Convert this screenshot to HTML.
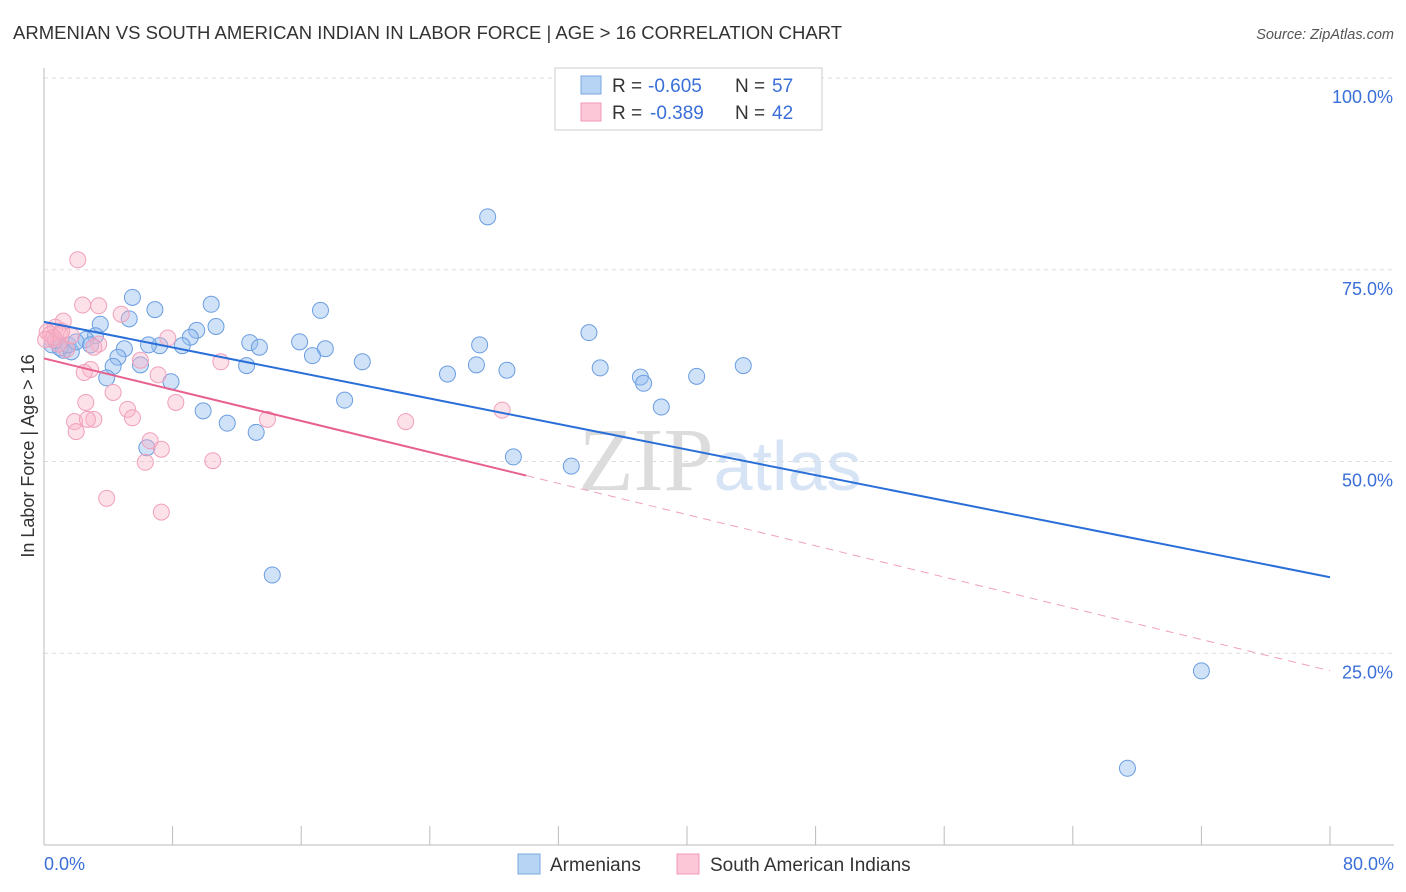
<!DOCTYPE html>
<html><head><meta charset="utf-8"><style>
body{margin:0;background:#fff;font-family:"Liberation Sans",sans-serif}
svg{display:block}
</style></head><body>
<svg id="chart" width="1406" height="892">
<text x="13" y="39" font-size="18.5" fill="#333">ARMENIAN VS SOUTH AMERICAN INDIAN IN LABOR FORCE | AGE &gt; 16 CORRELATION CHART</text>
<text x="1394" y="39" font-size="14.5" fill="#555" font-style="italic" text-anchor="end">Source: ZipAtlas.com</text>
<text x="34" y="456" font-size="18" fill="#333" text-anchor="middle" transform="rotate(-90 34 456)">In Labor Force | Age &gt; 16</text>
<text x="720" y="490" font-size="90" fill="#e4e4e4" text-anchor="middle" font-family="Liberation Serif,serif"><tspan fill="#dcdcdc">ZIP</tspan><tspan fill="#d6e4f5" font-family="Liberation Sans,sans-serif" font-size="70">atlas</tspan></text>
<g id="grid"></g><g id="marks"></g>
<g>
<rect x="555" y="68" width="267" height="62" fill="#fff" stroke="#ccc"/>
<rect x="581" y="76" width="20" height="18" fill="#b8d4f5" stroke="#7aa8e0"/>
<rect x="581" y="103" width="20" height="18" fill="#fcc8d8" stroke="#f09ab5"/>
<text x="612" y="92" font-size="19" fill="#333">R =</text>
<text x="648" y="92" font-size="19" fill="#3a6fd8">-0.605</text>
<text x="735" y="92" font-size="19" fill="#333">N =</text>
<text x="772" y="92" font-size="19" fill="#3a6fd8">57</text>
<text x="612" y="119" font-size="19" fill="#333">R =</text>
<text x="650" y="119" font-size="19" fill="#3a6fd8">-0.389</text>
<text x="735" y="119" font-size="19" fill="#333">N =</text>
<text x="772" y="119" font-size="19" fill="#3a6fd8">42</text>
</g>
<g>
<rect x="518" y="854" width="22" height="20" fill="#b8d4f5" stroke="#7aa8e0"/>
<text x="550" y="871" font-size="19" fill="#333">Armenians</text>
<rect x="677" y="854" width="22" height="20" fill="#fcc8d8" stroke="#f09ab5"/>
<text x="710" y="871" font-size="19" fill="#333">South American Indians</text>
</g>
</svg>
<script>
const yTicks=[100,75,50,25];
const xLabels=["0.0%","80.0%"];
const blueX=[27.6,5.5,10.4,6.9,17.2,5.3,3.5,10.7,9.5,33.9,3.2,2.6,9.1,12.8,15.9,0.5,7.2,8.6,27.1,13.4,5.0,1.2,1.7,17.5,4.6,16.7,12.6,6.0,4.3,19.8,43.5,34.6,26.9,28.8,25.1,40.6,37.1,37.3,3.9,7.9,18.7,9.9,38.4,11.4,13.2,6.4,29.2,32.8,14.2,72.0,67.4,1.0,1.5,2.0,0.7,2.9,6.5];
const blueY=[81.9,71.4,70.5,69.8,69.7,68.6,67.9,67.6,67.1,66.8,66.4,65.9,66.2,65.5,65.6,65.2,65.1,65.1,65.2,64.9,64.7,64.5,64.3,64.7,63.6,63.8,62.5,62.6,62.4,63.0,62.5,62.2,62.6,61.9,61.4,61.1,61.0,60.2,60.9,60.4,58.0,56.6,57.1,55.0,53.8,51.8,50.6,49.4,35.2,22.7,10.0,64.8,65.2,65.6,65.8,65.2,65.2];
const pinkX=[2.1,2.4,3.4,4.8,1.2,0.7,1.0,1.7,0.2,0.5,7.7,3.4,3.1,1.4,0.9,11.0,6.0,2.9,2.5,7.1,4.3,8.2,2.6,28.5,5.2,1.9,5.5,3.1,2.7,13.9,22.5,2.0,6.6,7.3,6.3,10.5,3.9,7.3,0.4,0.6,0.1,1.1];
const pinkY=[76.3,70.4,70.3,69.2,68.3,67.5,66.6,66.4,66.9,65.9,66.1,65.3,64.9,64.6,65.3,63.0,63.2,62.0,61.6,61.3,59.0,57.7,57.7,56.7,56.8,55.2,55.7,55.5,55.5,55.5,55.2,53.9,52.7,51.6,49.9,50.1,45.2,43.4,66.6,66.2,65.9,67.0];
const ns="http://www.w3.org/2000/svg";
const X=v=>44+v/80*1286, Y=v=>78+(100-v)*7.67;
function mk(t,a,p){const e=document.createElementNS(ns,t);for(const k in a)e.setAttribute(k,a[k]);p.appendChild(e);return e;}
const g=document.getElementById('grid'),m=document.getElementById('marks');
yTicks.forEach(v=>{
 const l=mk('line',{x1:44,x2:1394,y1:Y(v),y2:Y(v),stroke:'#ddd','stroke-dasharray':'4,4'},g);
 
 
 const t=mk('text',{x:1393,y:Y(v)+25,'font-size':18,fill:'#3a6fd8','text-anchor':'end'},g);
 
 
 t.textContent=v.toFixed(1)+'%';
});
mk('line',{x1:44,x2:44,y1:68,y2:845,stroke:'#bbb'},g);
mk('line',{x1:44,x2:1394,y1:845,y2:845,stroke:'#bbb'},g);
for(let i=1;i<=10;i++){mk('line',{x1:X(i*8),x2:X(i*8),y1:826,y2:845,stroke:'#bbb'},g);}
[[0,'start',44],[80,'end',1394]].forEach((d,i)=>{
 const t=mk('text',{x:d[2],y:870,'font-size':18,fill:'#3a6fd8','text-anchor':d[1]},g);
 
 
 t.textContent=xLabels[i];
});
function fit(xs,ys){const n=xs.length;let mx=0,my=0;for(let i=0;i<n;i++){mx+=xs[i];my+=ys[i];}mx/=n;my/=n;let a=0,b=0;for(let i=0;i<n;i++){a+=(xs[i]-mx)*(ys[i]-my);b+=(xs[i]-mx)**2;}const s=a/b;return[s,my-s*mx];}
blueX.forEach((v,i)=>{const c=mk('circle',{cx:X(v),cy:Y(blueY[i]),r:8,fill:'rgba(150,190,240,0.45)',stroke:'#6b9de0','stroke-width':1},m);
 
 });
pinkX.forEach((v,i)=>{const c=mk('circle',{cx:X(v),cy:Y(pinkY[i]),r:8,fill:'rgba(250,180,200,0.4)',stroke:'#f0a0bb','stroke-width':1},m);
 
 });
let [s,b]=fit(blueX,blueY);
const bl=mk('line',{x1:X(0),y1:Y(b),x2:X(80),y2:Y(b+s*80),stroke:'#2a6fd8','stroke-width':2},m);


[s,b]=fit(pinkX,pinkY);
const pl=mk('line',{x1:X(0),y1:Y(b),x2:X(30),y2:Y(b+s*30),stroke:'#e8608f','stroke-width':2},m);


const pd=mk('line',{x1:X(30),y1:Y(b+s*30),x2:X(80),y2:Y(b+s*80),stroke:'#f0a0bb','stroke-width':1,'stroke-dasharray':'8,6'},m);


</script>
</body></html>
